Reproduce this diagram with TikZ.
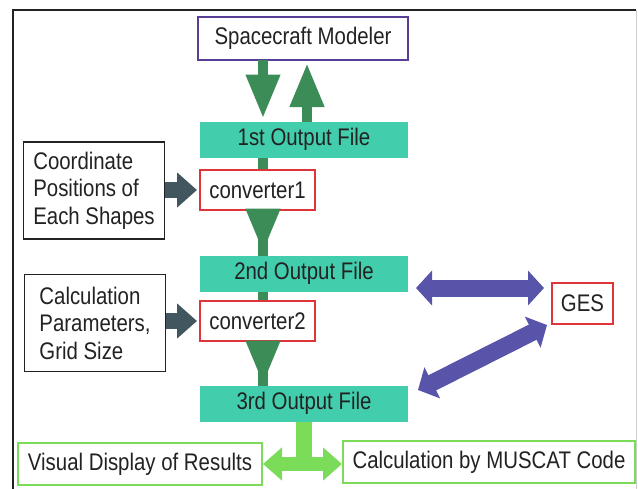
\documentclass[tikz,border=0pt]{standalone}
\usepackage{fontspec}
\setmainfont{Liberation Sans}[FakeStretch=0.85]
\usepackage{tikz}
\usetikzlibrary{arrows.meta}

\definecolor{fileteal}{RGB}{66,206,172}
\definecolor{darkgreen}{RGB}{60,140,88}
\definecolor{slate}{RGB}{66,86,96}
\definecolor{gesblue}{RGB}{88,84,170}
\definecolor{lightgreen}{RGB}{122,220,88}
\definecolor{boxred}{RGB}{222,52,58}
\definecolor{boxpurple}{RGB}{88,62,150}
\definecolor{textgray}{RGB}{34,34,34}

\begin{document}
\begin{tikzpicture}[x=1pt, y=-1pt,
  every node/.style={font=\fontsize{24}{27.5}\selectfont, text=textgray, inner sep=0pt, outer sep=0pt},
  filebox/.style={fill=fileteal, minimum width=208pt, minimum height=36pt},
  convbox/.style={draw=boxred, line width=1.6pt, fill=white, minimum width=115pt, minimum height=40pt},
  inbox/.style={draw=textgray, line width=1.4pt, align=left, minimum width=141pt, minimum height=97pt},
  outbox/.style={draw=lightgreen, line width=2.6pt, fill=white, minimum height=42pt},
  garrow/.style={darkgreen, line width=10pt, -{Triangle[length=44pt, width=32pt]}},
  gshaft/.style={darkgreen, line width=10pt},
  sarrow/.style={slate, line width=16pt, -{Triangle[length=20pt, width=34pt]}},
  barrow/.style={gesblue, line width=17pt, {Triangle[length=16pt, width=34pt]}-{Triangle[length=16pt, width=34pt]}},
  larrow/.style={lightgreen, line width=14pt, {Triangle[length=19pt, width=32pt]}-{Triangle[length=19pt, width=32pt]}}]
\useasboundingbox (0,0) rectangle (638,488);

\draw[textgray, line width=1.3pt] (13,490) -- (13,10) -- (636,10);
\draw[gray!40, line width=1pt] (636,10) -- (636,490);

\coordinate (dn) at (263,0);
\coordinate (up) at (307,0);

\node[draw=boxpurple, line width=1.6pt, minimum width=210pt, minimum height=43pt] (sm) at (303,38.5) {Spacecraft Modeler};
\node[filebox] (o1) at (304,139.5) {1st Output File};
\node[filebox] (o2) at (304,273.5) {2nd Output File};
\node[filebox] (o3) at (304,403.5) {3rd Output File};

\draw[gshaft] (o1.south -| dn) -- (o2.north -| dn);
\draw[gshaft] (o2.south -| dn) -- (o3.north -| dn);

\node[convbox] (c1) at (257.5,190) {converter1};
\node[convbox] (c2) at (257.5,321) {converter2};

\node[inbox] (cp) at (94,190.5) {Coordinate\\Positions of\\Each Shapes};
\node[inbox] (calc) at (95,323) {Calculation\\Parameters,\\Grid Size};

\node[draw=boxred, line width=1.6pt, minimum width=61pt, minimum height=41pt] (ges) at (582.5,303.5) {GES};

\node[outbox, minimum width=244pt] (vis) at (140,464) {Visual Display of Results};
\node[outbox, minimum width=292pt] (mus) at (489,462) {Calculation by MUSCAT Code};

\draw[garrow, shorten >=3pt] (sm.south -| dn) -- (o1.north -| dn);
\draw[garrow, shorten >=3pt] (o1.north -| up) -- (sm.south -| up);
\draw[garrow, shorten >=3pt] (c1.south -| dn) -- (o2.north -| dn);
\draw[garrow, shorten >=1pt] (c2.south -| dn) -- (o3.north -| dn);

\draw[sarrow, shorten >=3pt] (cp.east |- c1.west) -- (c1.west);
\draw[sarrow, shorten >=3pt] (calc.east |- c2.west) -- (c2.west);

\draw[barrow] ([xshift=8pt, yshift=-14.5pt]o2.east) -- ([xshift=-8pt, yshift=15.5pt]ges.west);
\draw[barrow] ([xshift=10pt, yshift=13.5pt]o3.east) -- ([xshift=-5pt, yshift=-1pt]ges.south west);

\draw[lightgreen, line width=16pt] (o3.south) -- (o3.south |- vis.east);
\draw[larrow, shorten <=1pt, shorten >=1pt] (vis.east) -- (mus.west |- vis.east);
\end{tikzpicture}
\end{document}
